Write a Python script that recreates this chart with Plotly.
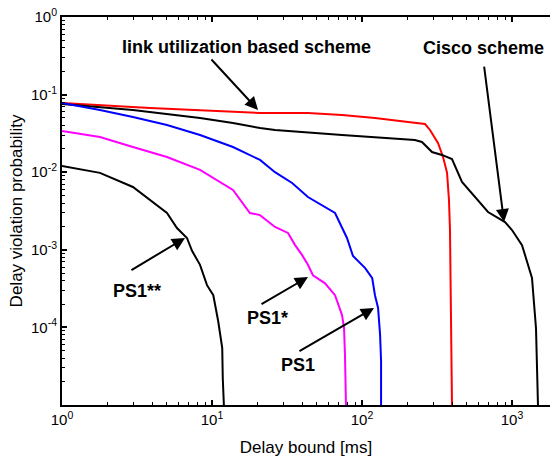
import plotly.graph_objects as go
import numpy as np

# ---- data ----
link_x = [1.0, 3.86, 20.9, 43.6, 73.6, 122, 203, 263, 284, 302, 321, 347, 369, 380, 386, 398]
link_y = [0.078, 0.0672, 0.058, 0.058, 0.0546, 0.0499, 0.0443, 0.0418, 0.035, 0.0284, 0.0238, 0.0157, 0.0098, 0.00438, 0.0018, 1.0e-5]

cisco_x = [1.0, 2.97, 8.32, 13.8, 20.9, 26.3, 73.6, 122, 225, 251, 293, 341, 398, 464, 567, 692, 898, 1000, 1166, 1359, 1445, 1490]
cisco_y = [0.0757, 0.0633, 0.0499, 0.043, 0.0371, 0.035, 0.0302, 0.0284, 0.026, 0.0245, 0.0182, 0.0167, 0.0148, 0.00748, 0.00479, 0.00307, 0.00228, 0.0018, 0.00115, 4.33e-4, 9.8e-5, 1.0e-5]

ps1_x = [1.0, 1.79, 2.97, 5.01, 8.32, 13.8, 20.9, 26.3, 34.2, 43.6, 66.1, 73.6, 79.4, 87.1, 105, 117, 122, 128, 132, 134, 134]
ps1_y = [0.078, 0.0633, 0.0514, 0.0406, 0.0302, 0.0211, 0.0144, 0.01, 0.00726, 0.00479, 0.00298, 0.00191, 0.00142, 8.3e-4, 5.8e-4, 4.3e-4, 2.6e-4, 1.78e-4, 8.0e-5, 3.7e-5, 1.0e-5]

ps1s_x = [1.0, 1.79, 2.97, 5.01, 8.32, 13.8, 17.9, 20.9, 26.3, 32.1, 35.8, 39.8, 43.6, 47.1, 56.7, 66.1, 73.6, 75.9, 77.0, 78.2]
ps1s_y = [0.034, 0.0284, 0.0211, 0.0157, 0.0107, 0.0059, 0.00298, 0.0028, 0.00197, 0.00165, 0.00115, 8.6e-4, 6.4e-4, 4.7e-4, 3.7e-4, 2.6e-4, 1.44e-4, 9.8e-5, 4.4e-5, 1.0e-5]

ps1ss_x = [1.0, 1.79, 2.97, 3.86, 5.01, 5.84, 6.81, 7.36, 8.32, 9.26, 10.2, 11.0, 11.7, 11.8, 12.0]
ps1ss_y = [0.012, 0.0098, 0.00645, 0.00438, 0.00298, 0.00191, 0.00142, 9.7e-4, 6.4e-4, 3.5e-4, 2.6e-4, 1.2e-4, 5.4e-5, 2.2e-5, 1.0e-5]

x_tickvals = [1, 10, 100, 1000]
x_ticktext = ["10<sup>0</sup>", "10<sup>1</sup>", "10<sup>2</sup>", "10<sup>3</sup>"]
y_tickvals = [1, 0.1, 0.01, 0.001, 0.0001]
y_ticktext = ["10<sup>0</sup>", "10<sup>-1</sup>", "10<sup>-2</sup>", "10<sup>-3</sup>", "10<sup>-4</sup>"]

x_minor = [m * 10 ** k for k in range(0, 4) for m in range(2, 10)]
y_minor = [m * 10.0 ** k for k in range(-5, 0) for m in range(2, 10)]

FONT = "Liberation Sans, Arial, sans-serif"

fig = go.Figure()
series = [
    (link_x, link_y, "#ff0000"),
    (cisco_x, cisco_y, "#000000"),
    (ps1_x, ps1_y, "#0000ff"),
    (ps1s_x, ps1s_y, "#ff00ff"),
    (ps1ss_x, ps1ss_y, "#000000"),
]
for xs, ys, c in series:
    fig.add_trace(go.Scatter(x=xs, y=ys, mode="lines", line=dict(color=c, width=2), showlegend=False))

# annotations: (text, text_x_log, text_y_log, tail_x_log, tail_y_log, tip_x_log, tip_y_log)
notes = [
    ("link utilization based scheme", 1.233, -0.387, 0.987, -0.528, 1.307, -1.198),
    ("Cisco scheme", 2.813, -0.40, 2.813, -0.619, 2.947, -2.642),
    ("PS1**", 0.50, -3.531, 0.453, -3.273, 0.82, -2.848),
    ("PS1*", 1.367, -3.879, 1.32, -3.711, 1.64, -3.351),
    ("PS1", 1.573, -4.485, 1.573, -4.317, 2.08, -3.75),
]
for txt, tx, ty, ax_, ay_, hx, hy in notes:
    fig.add_annotation(x=tx, y=ty, xref="x", yref="y", text="<b>%s</b>" % txt, showarrow=False,
                       font=dict(family=FONT, size=18, color="black"))
    fig.add_annotation(x=hx, y=hy, xref="x", yref="y", ax=ax_, ay=ay_, axref="x", ayref="y",
                       text="", showarrow=True, arrowhead=2, arrowsize=1.3, arrowwidth=2,
                       arrowcolor="black", standoff=0, startstandoff=0)

fig.update_layout(
    width=550, height=457,
    margin=dict(l=62, r=0, t=17, b=52, autoexpand=False),
    paper_bgcolor="white", plot_bgcolor="white",
    font=dict(family=FONT, color="black", size=14),
)
fig.update_xaxes(
    type="log", range=[0, 3.2533], automargin=False,
    tickmode="array", tickvals=x_tickvals, ticktext=x_ticktext,
    ticks="inside", ticklen=5, tickwidth=1.5, tickcolor="black",
    minor=dict(tickmode="array", tickvals=x_minor, ticks="inside", ticklen=3, tickwidth=1, tickcolor="black", showgrid=False),
    showline=True, linecolor="black", linewidth=2, mirror="ticks",
    showgrid=False, zeroline=False,
    tickfont=dict(size=15, family=FONT),
    title=dict(text="Delay bound [ms]", font=dict(size=17, family=FONT), standoff=14),
)
fig.update_yaxes(
    type="log", range=[-5, 0], automargin=False,
    tickmode="array", tickvals=y_tickvals, ticktext=y_ticktext,
    ticks="inside", ticklen=5, tickwidth=1.5, tickcolor="black",
    minor=dict(tickmode="array", tickvals=y_minor, ticks="inside", ticklen=3, tickwidth=1, tickcolor="black", showgrid=False),
    showline=True, linecolor="black", linewidth=2, mirror=False,
    showgrid=False, zeroline=False,
    tickfont=dict(size=15, family=FONT),
    title=dict(text="Delay violation probability", font=dict(size=17, family=FONT), standoff=4),
)

fig.write_html("out.html", config={"displayModeBar": False},
               post_script="document.body.style.margin='0px';")
